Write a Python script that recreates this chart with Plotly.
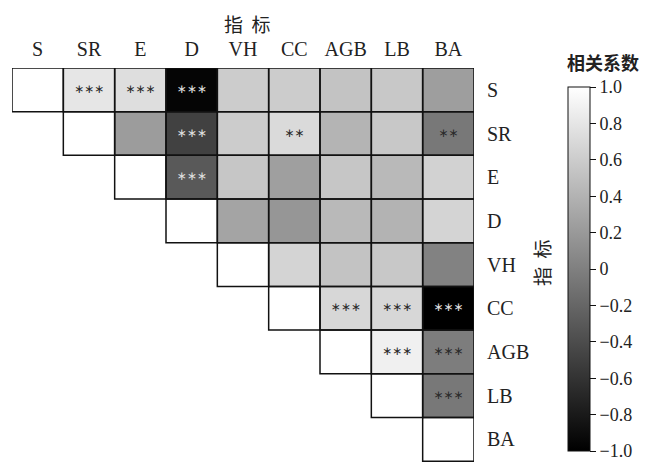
import plotly.graph_objects as go
import numpy as np

labels = ["S", "SR", "E", "D", "VH", "CC", "AGB", "LB", "BA"]

# upper-triangle correlation values, row by row (columns after the diagonal)
r_S = [0.80, 0.74, -0.96, 0.60, 0.60, 0.53, 0.57, 0.24]
r_SR = [0.22, -0.49, 0.60, 0.71, 0.41, 0.57, -0.06]
r_E = [-0.30, 0.55, 0.25, 0.55, 0.45, 0.65]
r_D = [0.29, 0.18, 0.45, 0.40, 0.66]
r_VH = [0.66, 0.53, 0.57, 0.02]
r_CC = [0.69, 0.69, -1.00]
r_AGB = [0.88, -0.02]
r_LB = [-0.06]
r_BA = []

# significance marks for the same cells
s_S = ["***", "***", "***", "", "", "", "", ""]
s_SR = ["", "***", "", "**", "", "", "**"]
s_E = ["***", "", "", "", "", ""]
s_D = ["", "", "", "", ""]
s_VH = ["", "", "", ""]
s_CC = ["***", "***", "***"]
s_AGB = ["***", "***"]
s_LB = ["***"]
s_BA = []

cb_vals = [1.0, 0.8, 0.6, 0.4, 0.2, 0.0, -0.2, -0.4, -0.6, -0.8, -1.0]
cb_text = ["1.0", "0.8", "0.6", "0.4", "0.2", "0", "\u22120.2", "\u22120.4", "\u22120.6", "\u22120.8", "\u22121.0"]

rows = [r_S, r_SR, r_E, r_D, r_VH, r_CC, r_AGB, r_LB, r_BA]
sigs = [s_S, s_SR, s_E, s_D, s_VH, s_CC, s_AGB, s_LB, s_BA]
n = len(labels)

z = np.full((n, n), np.nan)
for i in range(n):
    z[i, i] = 1.0
    for k, v in enumerate(rows[i]):
        z[i, i + 1 + k] = v

SERIF = "Liberation Serif, Times New Roman, serif"
CJK = "Noto Sans CJK SC"
OFF = 8  # page body margin
W, H = 646, 454
L, T, B = 12 - OFF, 68 - OFF, 0
PW = 462
R = W - L - PW
PH = H - T - B


def px(xp):
    return (xp - OFF - L) / PW


def py(yp):
    return (H - B - (yp - OFF)) / PH


fig = go.Figure()
fig.add_trace(go.Heatmap(
    z=z, x=list(range(n)), y=list(range(n)),
    colorscale=[[0, "#000000"], [1, "#ffffff"]], zmin=-1, zmax=1,
    hoverongaps=False,
    colorbar=dict(
        x=px(568), xanchor="left", xref="paper", xpad=0, ypad=0,
        y=py(87), yanchor="top", len=(451 - 87) / PH, lenmode="fraction",
        thickness=22, outlinecolor="#111", outlinewidth=1,
        ticks="outside", ticklen=6, tickcolor="#111", tickwidth=1,
        tickvals=cb_vals, ticktext=cb_text, ticklabeloverflow="allow",
        tickfont=dict(family=SERIF, size=18, color="#222"),
    ),
))

# significance stars
tx, ty, tt, tc = [], [], [], []
for i in range(n):
    for k, s in enumerate(sigs[i]):
        if s:
            j = i + 1 + k
            tx.append(j); ty.append(i)
            tt.append(s.replace("*", "\u2217"))
            tc.append("#e0e0e0" if z[i, j] < -0.2 else "#2a2a2a")
fig.add_trace(go.Scatter(
    x=tx, y=ty, text=tt, mode="text", textposition="middle center",
    textfont=dict(family="DejaVu Sans", size=12, color=tc),
    hoverinfo="skip", showlegend=False,
))

# cell borders for upper triangle incl. diagonal
for i in range(n):
    for j in range(i, n):
        fig.add_shape(type="rect", xref="x", yref="y",
                      x0=j - 0.5, x1=j + 0.5, y0=i - 0.5, y1=i + 0.5,
                      line=dict(color="#111", width=1.5), fillcolor="rgba(0,0,0,0)",
                      layer="above")

fig.update_layout(
    width=W, height=H,
    margin=dict(l=L, r=R, t=T, b=B, autoexpand=False),
    paper_bgcolor="white", plot_bgcolor="white",
    showlegend=False,
    xaxis=dict(side="top", tickvals=list(range(n)), ticktext=labels,
               range=[-0.5, n - 0.5], showgrid=False, zeroline=False,
               ticks="", tickfont=dict(family=SERIF, size=20, color="#222"),
               ticklabelstandoff=7, automargin=False),
    yaxis=dict(side="right", tickvals=list(range(n)), ticktext=labels,
               range=[n - 0.48, -0.5], showgrid=False, zeroline=False,
               ticks="", tickfont=dict(family=SERIF, size=20, color="#222"),
               ticklabelstandoff=12, automargin=False),
    annotations=[
        dict(text="指\u00a0\u00a0标", xref="paper", yref="paper", x=px(247), y=py(23),
             xanchor="center", yanchor="middle", showarrow=False,
             font=dict(family=CJK, size=19, color="#222")),
        dict(text="指\u00a0\u00a0标", xref="paper", yref="paper", x=px(541), y=py(263),
             xanchor="center", yanchor="middle", showarrow=False, textangle=-90,
             font=dict(family=CJK, size=19, color="#222")),
        dict(text="<b>相关系数</b>", xref="paper", yref="paper", x=px(603), y=py(62),
             xanchor="center", yanchor="middle", showarrow=False,
             font=dict(family=CJK, size=18, color="#222")),
    ],
)

fig.write_html("out.html")
